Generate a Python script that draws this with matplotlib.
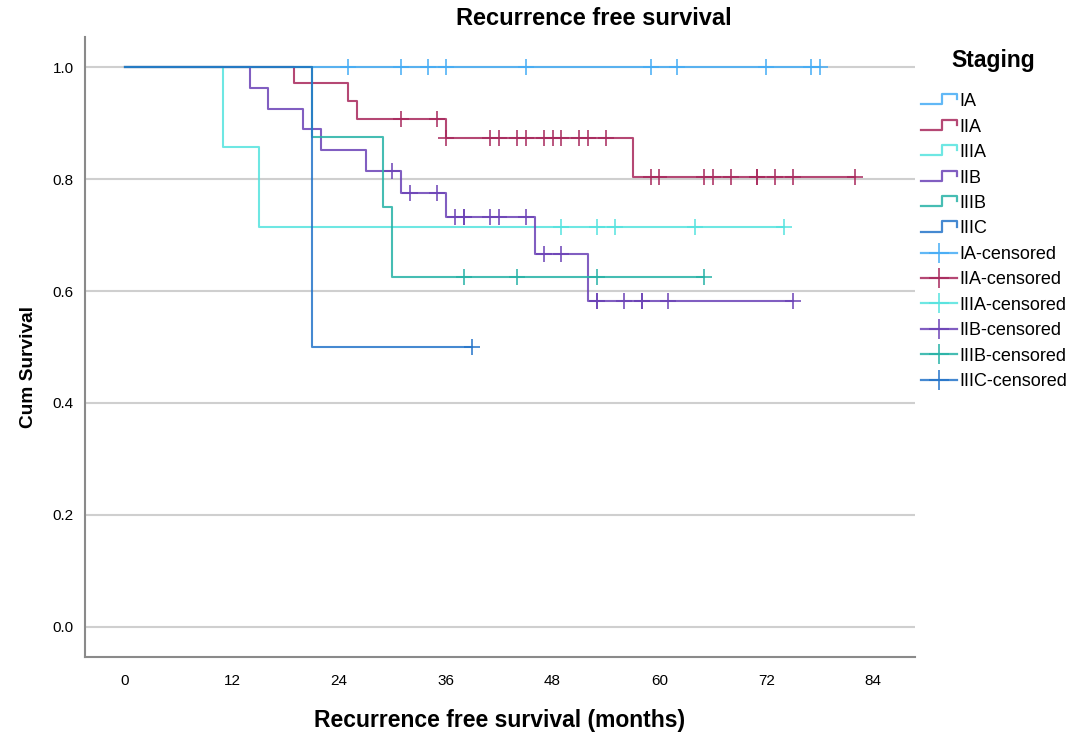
import numpy as np
import matplotlib
matplotlib.use('Agg')
import matplotlib.pyplot as plt
from matplotlib.lines import Line2D
from matplotlib.legend_handler import HandlerBase

plt.rcParams['font.family'] = ['Liberation Sans', 'DejaVu Sans']

# stages, drawn in this order (last one on top)
stages = ['IA', 'IIA', 'IIIA', 'IIB', 'IIIB', 'IIIC']
colors = ['#45acf5', '#a8285c', '#55e3df', '#6b42b6', '#26b2a6', '#2474c9']

# event times (months) and the survival level reached after each event
event_times = {
    'IA':   [],
    'IIA':  [19, 25, 26, 36, 57],
    'IIIA': [11, 15],
    'IIB':  [14, 16, 20, 22, 27, 31, 36, 46, 52],
    'IIIB': [21, 29, 30],
    'IIIC': [21],
}
surv_levels = {
    'IA':   [],
    'IIA':  [0.971, 0.940, 0.908, 0.874, 0.803],
    'IIIA': [0.857, 0.714],
    'IIB':  [0.963, 0.926, 0.889, 0.852, 0.815, 0.776, 0.733, 0.667, 0.583],
    'IIIB': [0.875, 0.750, 0.625],
    'IIIC': [0.500],
}
# censored times (months)
censored = {
    'IA':   [25, 31, 34, 36, 45, 59, 62, 72, 77, 78],
    'IIA':  [31, 35, 36, 41, 42, 44, 45, 47, 48, 49, 51, 52, 54,
             59, 60, 65, 66, 68, 71, 71, 73, 75, 82],
    'IIIA': [49, 53, 55, 64, 74],
    'IIB':  [30, 32, 35, 37, 38, 38, 41, 42, 45, 47, 49, 53, 53,
             56, 58, 58, 61, 75],
    'IIIB': [38, 44, 53, 65],
    'IIIC': [39],
}
x_ticks = [0, 12, 24, 36, 48, 60, 72, 84]
y_ticks = [0.0, 0.2, 0.4, 0.6, 0.8, 1.0]


class StepHandler(HandlerBase):
    # legend key shaped like a small survival step
    def create_artists(self, legend, orig_handle, xdescent, ydescent,
                       width, height, fontsize, trans):
        x0, y0 = -xdescent, -ydescent
        xm = x0 + width * 0.6
        xs = [x0, xm, xm, x0 + width, x0 + width]
        ys = [y0 + height * 0.15, y0 + height * 0.15, y0 + height * 0.95,
              y0 + height * 0.95, y0 + height * 0.55]
        ln = Line2D(xs, ys, color=orig_handle.get_color(), lw=1.6,
                    alpha=0.85, transform=trans)
        return [ln]


fig = plt.figure(figsize=(10.73, 7.34), dpi=100)
ax = fig.add_axes([0.0792, 0.1049, 0.7736, 0.8447])

step_handles = []
cens_handles = []
for st, col in zip(stages, colors):
    ev = event_times[st]
    sv = surv_levels[st]
    cs = censored[st]
    end = max(cs + ev)
    xs = [0] + ev + [end]
    ys = [1.0] + sv + [sv[-1] if sv else 1.0]
    line, = ax.step(xs, ys, where='post', color=col, lw=1.5, alpha=0.85)
    # survival level at each censored time
    lv = np.array([1.0] + sv)
    idx = np.searchsorted(np.array(ev), np.array(cs), side='right')
    ax.plot(cs, lv[idx], linestyle='none', marker='+', ms=11, mew=1.3,
            color=col, alpha=0.85)
    step_handles.append(line)
    cens_handles.append(Line2D([], [], color=col, lw=1.6, alpha=0.85,
                               marker='+', ms=14, mew=1.3))

ax.set_xlim(-4.5, 88.7)
ax.set_ylim(-0.054, 1.054)
ax.set_xticks(x_ticks)
ax.set_yticks(y_ticks)
ax.set_yticklabels([f'{v:.1f}' for v in y_ticks])
ax.tick_params(length=0, labelsize=11, pad=8)
ax.tick_params(axis='x', pad=12)
ax.grid(axis='y', color='#cfcfcf', lw=1.5)
ax.set_axisbelow(True)
for s in ['top', 'right']:
    ax.spines[s].set_visible(False)
for s in ['left', 'bottom']:
    ax.spines[s].set_color('#8a8a8a')
    ax.spines[s].set_linewidth(1.5)

fig.text(0.553, 0.975, 'Recurrence free survival', fontsize=17,
         fontweight='bold', ha='center', va='center')
ax.set_xlabel('Recurrence free survival (months)', fontsize=16.5,
              fontweight='bold', labelpad=15)
ax.set_ylabel('Cum Survival', fontsize=13.8, fontweight='bold')
ax.yaxis.set_label_coords(-0.058, 0.468)

handles = step_handles + cens_handles
labels = stages + [s + '-censored' for s in stages]
hmap = {h: StepHandler() for h in step_handles}
fig.text(0.9255, 0.918, 'Staging', fontsize=16.5, fontweight='bold',
         ha='center', va='center')
leg = fig.legend(handles, labels, handler_map=hmap, loc='upper left',
                 bbox_to_anchor=(0.843, 0.895), frameon=False,
                 fontsize=13, handlelength=2.0,
                 handletextpad=0.15, labelspacing=0.467)

fig.savefig('out.png', dpi=100)
